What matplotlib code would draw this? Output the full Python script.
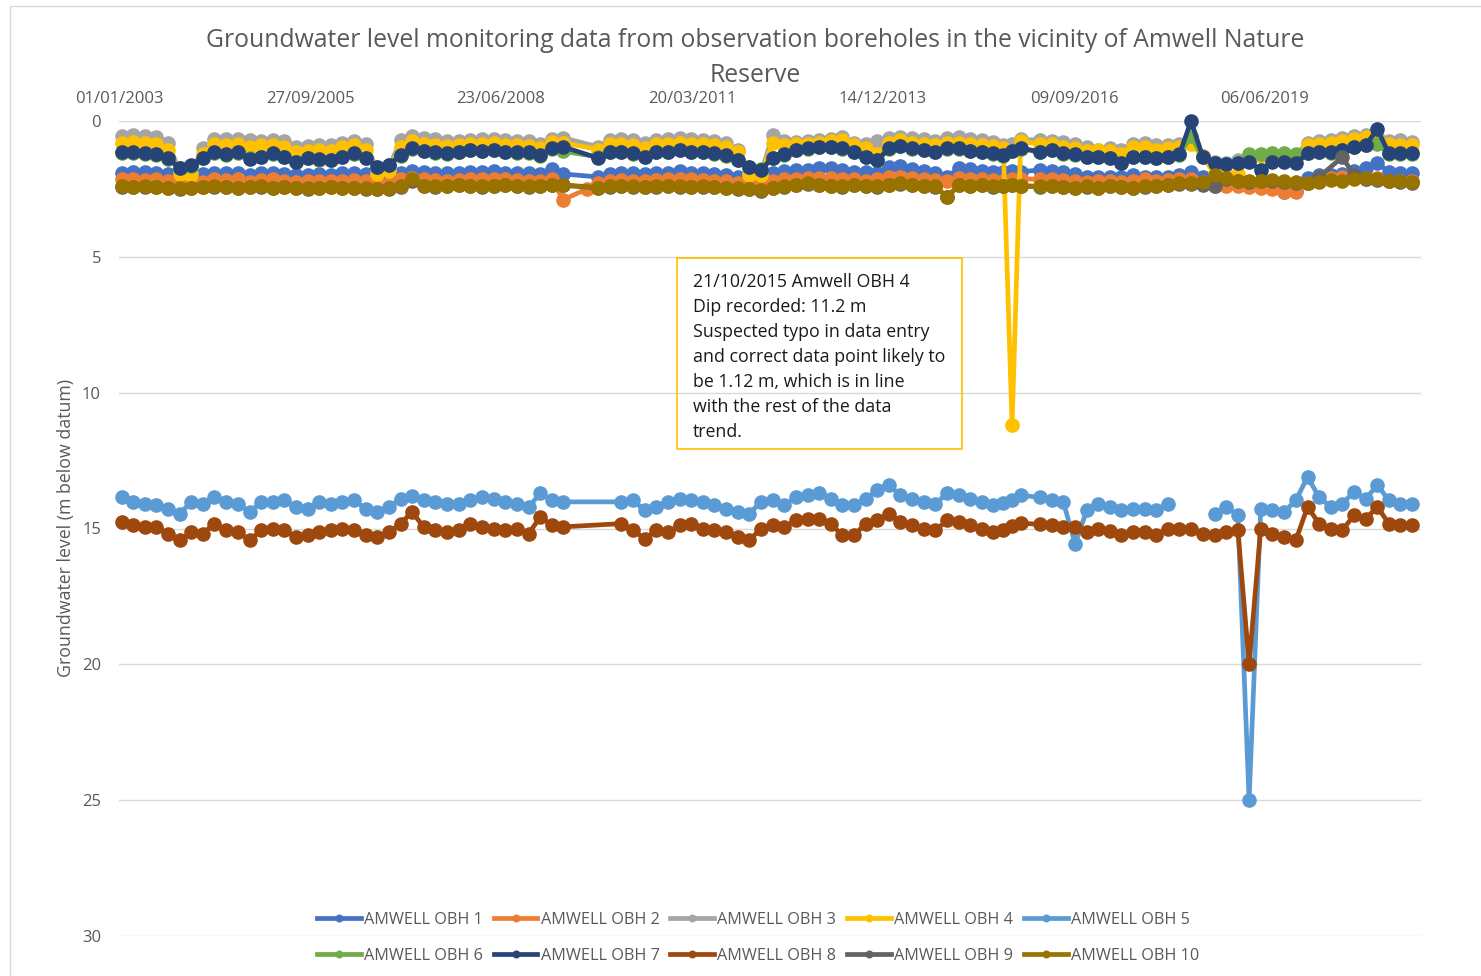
import datetime as dt

import matplotlib
import matplotlib.pyplot as plt
import matplotlib.dates as mdates
import numpy as np
import pandas as pd
from matplotlib.patches import Rectangle

matplotlib.use("Agg")

# === data ===
# survey visits roughly every two months (None = no reading that visit)
survey_dates = list(pd.date_range("2003-01-01", "2021-07-01", freq="2MS") + pd.Timedelta(days=14))
survey_dates[76] = pd.Timestamp("2015-09-05")
survey_dates[77] = pd.Timestamp("2015-10-21")
survey_dates[78] = pd.Timestamp("2015-12-05")

series_names = ["AMWELL OBH 1", "AMWELL OBH 2", "AMWELL OBH 3", "AMWELL OBH 4", "AMWELL OBH 5",
                "AMWELL OBH 6", "AMWELL OBH 7", "AMWELL OBH 8", "AMWELL OBH 9", "AMWELL OBH 10"]
series_colors = ["#4472C4", "#ED7D31", "#A5A5A5", "#FFC000", "#5B9BD5",
                 "#70AD47", "#264478", "#9E480E", "#636363", "#997300"]

obh1 = [1.90, 1.88, 1.88, 1.90, 1.95, 2.05, 2.05, 1.95, 1.90, 1.92,
        1.90, 2.00, 1.92, 1.92, 1.95, 2.00, 1.98, 1.95, 1.98, 1.92,
        1.90, 1.95, 2.05, 2.02, 1.90, 1.85, 1.88, 1.90, 1.92, 1.90,
        1.88, 1.88, 1.85, 1.90, 1.92, 1.92, 1.95, 1.75, 1.95, None,
        None, 2.06, 1.95, 1.92, 1.90, 1.95, 1.90, 1.90, 1.85, 1.90,
        1.92, 1.95, 1.98, 2.05, 2.10, 2.05, 1.93, 1.85, 1.80, 1.80,
        1.72, 1.72, 1.80, 1.87, 1.87, 1.90, 1.68, 1.65, 1.75, 1.85,
        1.90, 2.05, 1.74, 1.78, 1.85, 1.87, 1.87, 1.85, 1.87, 1.80,
        1.85, 1.87, 1.95, 2.05, 2.05, 2.05, 2.05, 2.00, 2.05, 2.05,
        2.05, 2.00, 1.87, 2.05, 2.20, 2.25, 2.30, 2.35, 2.40, 2.40,
        2.60, 2.58, 2.10, 2.00, 2.00, 1.95, 1.85, 1.74, 1.55, 1.87,
        1.90, 1.90]
obh2 = [2.15, 2.15, 2.18, 2.15, 2.20, 2.30, 2.30, 2.25, 2.15, 2.18,
        2.15, 2.25, 2.18, 2.15, 2.20, 2.25, 2.22, 2.20, 2.22, 2.20,
        2.18, 2.22, 2.30, 2.28, 2.15, 2.10, 2.15, 2.18, 2.20, 2.18,
        2.15, 2.15, 2.12, 2.15, 2.18, 2.20, 2.20, 2.15, 2.90, None,
        2.50, 2.28, 2.20, 2.18, 2.20, 2.22, 2.18, 2.15, 2.12, 2.15,
        2.18, 2.20, 2.22, 2.30, 2.35, 2.30, 2.20, 2.15, 2.12, 2.10,
        2.08, 2.10, 2.12, 2.15, 2.20, 2.15, 2.05, 2.05, 2.10, 2.15,
        2.18, 2.20, 2.10, 2.12, 2.15, 2.18, 2.20, 2.15, 2.12, 2.15,
        2.15, 2.18, 2.20, 2.25, 2.20, 2.20, 2.25, 2.20, 2.15, 2.20,
        2.18, 2.15, 2.15, 2.25, 2.38, 2.40, 2.40, 2.42, 2.45, 2.50,
        2.60, 2.62, 2.30, 2.20, 2.10, 2.05, 2.08, 2.15, 2.10, 2.20,
        2.22, 2.22]
obh3 = [0.55, 0.52, 0.55, 0.58, 0.80, 1.85, 1.90, 1.00, 0.68, 0.68,
        0.65, 0.70, 0.72, 0.70, 0.75, 0.95, 0.92, 0.88, 0.90, 0.80,
        0.72, 0.85, 1.80, 1.70, 0.70, 0.55, 0.62, 0.65, 0.75, 0.72,
        0.70, 0.68, 0.65, 0.70, 0.72, 0.75, 0.85, 0.65, 0.62, None,
        None, 0.95, 0.70, 0.68, 0.70, 0.80, 0.70, 0.68, 0.62, 0.68,
        0.70, 0.75, 0.82, 1.05, 1.90, 1.95, 0.52, 0.72, 0.78, 0.75,
        0.70, 0.65, 0.60, 0.80, 0.85, 0.75, 0.62, 0.58, 0.62, 0.68,
        0.72, 0.62, 0.60, 0.65, 0.70, 0.78, 0.90, 0.85, 0.68, 0.70,
        0.75, 0.78, 0.85, 0.95, 1.05, 0.98, 1.05, 0.85, 0.82, 0.90,
        0.88, 0.85, 0.80, 1.30, 1.50, 1.55, 1.45, 1.30, 1.25, 1.28,
        1.30, 1.25, 0.80, 0.72, 0.70, 0.62, 0.55, 0.52, 0.55, 0.72,
        0.70, 0.78]
obh4 = [0.80, 0.78, 0.82, 0.85, 1.05, 1.95, 2.00, 1.20, 0.85, 0.88,
        0.85, 0.95, 0.90, 0.88, 0.95, 1.15, 1.10, 1.05, 1.10, 0.95,
        0.90, 1.05, 1.95, 1.85, 0.95, 0.75, 0.85, 0.88, 0.92, 0.88,
        0.85, 0.85, 0.82, 0.88, 0.90, 0.92, 1.00, 0.78, 0.80, None,
        None, 1.05, 0.85, 0.85, 0.88, 1.00, 0.85, 0.85, 0.80, 0.85,
        0.85, 0.90, 0.95, 1.15, 2.00, 2.00, 0.80, 0.90, 0.85, 0.85,
        0.80, 0.75, 0.70, 0.90, 1.00, 1.20, 0.80, 0.70, 0.80, 0.85,
        0.90, 0.80, 0.80, 0.85, 0.88, 0.92, 1.00, 11.20, 0.75, 0.85,
        0.85, 0.95, 1.00, 1.10, 1.05, 1.10, 1.20, 0.95, 0.95, 1.05,
        1.00, 0.95, 0.85, 1.30, 1.95, 2.00, 1.95, 1.35, 1.30, 1.32,
        1.30, 1.35, 0.90, 0.85, 0.80, 0.75, 0.65, 0.60, 0.65, 0.85,
        0.90, 0.90]
obh5 = [13.84, 14.02, 14.08, 14.14, 14.27, 14.45, 14.02, 14.08, 13.84, 14.02,
        14.08, 14.40, 14.02, 14.02, 13.96, 14.20, 14.27, 14.02, 14.08, 14.02,
        13.96, 14.27, 14.39, 14.20, 13.90, 13.80, 13.96, 14.02, 14.08, 14.08,
        13.96, 13.84, 13.90, 14.02, 14.08, 14.20, 13.71, 13.96, 14.02, None,
        None, None, None, 14.02, 13.96, 14.33, 14.20, 14.02, 13.90, 13.96,
        14.02, 14.14, 14.27, 14.39, 14.45, 14.02, 13.96, 14.14, 13.84, 13.78,
        13.71, 13.90, 14.14, 14.14, 13.90, 13.59, 13.40, 13.78, 13.90, 14.02,
        14.08, 13.71, 13.78, 13.90, 14.02, 14.14, 14.05, 13.95, 13.78, 13.85,
        13.96, 14.02, 15.56, 14.33, 14.08, 14.20, 14.33, 14.27, 14.27, 14.33,
        14.08, np.nan, np.nan, np.nan, 14.45, 14.20, 14.50, 25.00, 14.27, 14.33,
        14.39, 13.96, 13.10, 13.84, 14.20, 14.08, 13.65, 13.90, 13.40, 13.96,
        14.08, 14.08]
obh6 = [1.18, 1.17, 1.20, 1.25, 1.40, 1.72, 1.65, 1.38, 1.17, 1.25,
        1.17, 1.38, 1.33, 1.20, 1.33, 1.52, 1.38, 1.42, 1.45, 1.33,
        1.20, 1.38, 1.70, 1.63, 1.27, 1.02, 1.12, 1.17, 1.20, 1.15,
        1.08, 1.12, 1.08, 1.15, 1.17, 1.17, 1.27, 1.02, 1.12, None,
        None, 1.32, 1.15, 1.15, 1.20, 1.33, 1.15, 1.15, 1.08, 1.15,
        1.15, 1.20, 1.27, 1.45, 1.70, 1.78, 1.37, 1.25, 1.08, 1.02,
        0.97, 0.97, 1.02, 1.15, 1.33, 1.45, 1.02, 0.93, 1.02, 1.08,
        1.15, 1.02, 1.02, 1.12, 1.15, 1.20, 1.27, 1.12, 1.02, 1.15,
        1.08, 1.20, 1.25, 1.33, 1.33, 1.38, 1.55, 1.33, 1.33, 1.38,
        1.33, 1.25, 0.55, 1.33, 1.55, 1.58, 1.55, 1.20, 1.22, 1.18,
        1.18, 1.20, 1.17, 1.15, 1.17, 1.08, 0.97, 0.90, 0.85, 1.20,
        1.20, 1.20]
obh7 = [1.15, 1.15, 1.19, 1.23, 1.37, 1.74, 1.62, 1.37, 1.15, 1.23,
        1.15, 1.40, 1.31, 1.19, 1.31, 1.50, 1.37, 1.40, 1.44, 1.31,
        1.19, 1.37, 1.68, 1.62, 1.25, 1.00, 1.10, 1.15, 1.19, 1.13,
        1.07, 1.10, 1.07, 1.13, 1.15, 1.15, 1.25, 1.00, 0.95, None,
        None, 1.37, 1.13, 1.13, 1.19, 1.31, 1.13, 1.13, 1.07, 1.13,
        1.13, 1.19, 1.25, 1.44, 1.68, 1.80, 1.35, 1.23, 1.07, 1.00,
        0.95, 0.95, 1.00, 1.13, 1.31, 1.44, 1.00, 0.91, 1.00, 1.07,
        1.13, 1.00, 1.00, 1.10, 1.13, 1.19, 1.25, 1.10, 1.00, 1.13,
        1.07, 1.19, 1.23, 1.31, 1.31, 1.37, 1.56, 1.31, 1.31, 1.37,
        1.31, 1.23, 0.00, 1.31, 1.56, 1.60, 1.56, 1.50, 1.80, 1.50,
        1.50, 1.56, 1.19, 1.13, 1.15, 1.07, 0.95, 0.88, 0.30, 1.19,
        1.19, 1.19]
obh8 = [14.76, 14.88, 14.94, 14.94, 15.19, 15.43, 15.13, 15.19, 14.82, 15.07,
        15.13, 15.43, 15.07, 15.00, 15.07, 15.31, 15.25, 15.13, 15.07, 15.00,
        15.07, 15.25, 15.31, 15.13, 14.82, 14.39, 14.94, 15.07, 15.13, 15.07,
        14.82, 14.94, 15.00, 15.07, 15.00, 15.19, 14.57, 14.88, 14.94, None,
        None, None, None, 14.82, 15.07, 15.37, 15.07, 15.13, 14.88, 14.82,
        15.00, 15.07, 15.13, 15.31, 15.43, 15.00, 14.88, 14.94, 14.70, 14.64,
        14.64, 14.82, 15.25, 15.25, 14.82, 14.70, 14.45, 14.76, 14.88, 15.00,
        15.07, 14.70, 14.76, 14.88, 15.00, 15.13, 15.06, 14.90, 14.80, 14.85,
        14.88, 14.94, 14.94, 15.13, 15.00, 15.10, 15.25, 15.13, 15.13, 15.25,
        15.00, 15.00, 15.00, 15.20, 15.25, 15.13, 15.06, 20.00, 15.00, 15.19,
        15.30, 15.43, 14.20, 14.82, 15.00, 15.06, 14.51, 14.64, 14.20, 14.82,
        14.88, 14.88]
obh9 = [2.42, 2.44, 2.42, 2.44, 2.47, 2.50, 2.47, 2.44, 2.42, 2.44,
        2.47, 2.44, 2.42, 2.47, 2.44, 2.47, 2.50, 2.47, 2.44, 2.47,
        2.47, 2.50, 2.52, 2.50, 2.42, 2.20, 2.40, 2.42, 2.40, 2.37,
        2.40, 2.42, 2.40, 2.37, 2.40, 2.42, 2.40, 2.37, 2.37, None,
        None, 2.47, 2.42, 2.40, 2.42, 2.44, 2.42, 2.40, 2.42, 2.44,
        2.42, 2.44, 2.47, 2.50, 2.52, 2.57, 2.47, 2.42, 2.37, 2.32,
        2.37, 2.40, 2.42, 2.37, 2.40, 2.42, 2.37, 2.32, 2.37, 2.40,
        2.42, 2.80, 2.37, 2.40, 2.37, 2.42, 2.40, 2.37, 2.40, 2.42,
        2.40, 2.44, 2.47, 2.42, 2.47, 2.40, 2.44, 2.47, 2.42, 2.40,
        2.37, 2.32, 2.32, 2.35, 2.40, 2.15, 2.22, 2.24, 2.22, 2.20,
        2.24, 2.27, 2.30, 2.06, None, 1.33, 2.00, 2.12, 2.17, 2.22,
        2.24, 2.27]
obh10 = [2.40, 2.42, 2.40, 2.42, 2.45, 2.48, 2.45, 2.42, 2.40, 2.42,
         2.45, 2.42, 2.40, 2.45, 2.42, 2.45, 2.48, 2.45, 2.42, 2.45,
         2.45, 2.48, 2.50, 2.48, 2.40, 2.15, 2.38, 2.40, 2.38, 2.35,
         2.38, 2.40, 2.38, 2.35, 2.38, 2.40, 2.38, 2.35, 2.35, None,
         None, 2.45, 2.40, 2.38, 2.40, 2.42, 2.40, 2.38, 2.40, 2.42,
         2.40, 2.42, 2.45, 2.48, 2.50, 2.55, 2.45, 2.40, 2.35, 2.30,
         2.35, 2.38, 2.40, 2.35, 2.38, 2.40, 2.35, 2.30, 2.35, 2.38,
         2.40, 2.80, 2.35, 2.38, 2.35, 2.40, 2.38, 2.35, 2.38, 2.40,
         2.38, 2.42, 2.45, 2.40, 2.45, 2.38, 2.42, 2.45, 2.40, 2.38,
         2.35, 2.30, 2.30, 2.25, 2.00, 2.10, 2.20, 2.22, 2.20, 2.18,
         2.22, 2.25, 2.28, 2.25, 2.18, 2.20, 2.15, 2.10, 2.15, 2.20,
         2.22, 2.25]

all_series = [obh1, obh2, obh3, obh4, obh5, obh6, obh7, obh8, obh9, obh10]

axis_start = dt.date(2003, 1, 1)
axis_end = dt.date(2021, 8, 31)
tick_step_days = 1000

note_text = ("21/10/2015 Amwell OBH 4\n"
             "Dip recorded: 11.2 m\n"
             "Suspected typo in data entry\n"
             "and correct data point likely to\n"
             "be 1.12 m, which is in line\n"
             "with the rest of the data\n"
             "trend.")

# === figure ===
W, H = 1481, 976
plt.rcParams["font.family"] = ["Open Sans", "DejaVu Sans"]
fig = plt.figure(figsize=(W / 100, H / 100), dpi=100)
ax = fig.add_axes([119 / W, 1 - 936 / H, (1421 - 119) / W, (936 - 121) / H])

handles = []
for name, color, vals in zip(series_names, series_colors, all_series):
    xs = [d for d, v in zip(survey_dates, vals) if v is not None]
    ys = np.array([v for v in vals if v is not None], dtype=float)
    (h,) = ax.plot(xs, ys, color=color, lw=3.4, marker="o", ms=9.5,
                   label=name, clip_on=False, solid_joinstyle="round")
    handles.append(h)

ax.set_ylim(30, 0)
ax.set_yticks(range(0, 31, 5))
ax.set_xlim(axis_start, axis_end)
ticks = []
d = axis_start
while d <= axis_end:
    ticks.append(d)
    d = d + dt.timedelta(days=tick_step_days)
ax.set_xticks(ticks)
ax.xaxis.set_major_formatter(mdates.DateFormatter("%d/%m/%Y"))
ax.xaxis.tick_top()
ax.tick_params(axis="x", length=0, pad=10, labelsize=12, labelcolor="#595959")
ax.tick_params(axis="y", length=0, pad=13, labelsize=12, labelcolor="#595959")
ax.grid(axis="y", color="#D9D9D9", lw=1)
ax.set_axisbelow(True)
for s in ax.spines.values():
    s.set_visible(False)

fig.text(66 / W, 1 - 528 / H, "Groundwater level (m below datum)", rotation=90,
         ha="center", va="center", fontsize=12.8, color="#595959")

fig.text(755 / W, 1 - 58 / H,
         "Groundwater level monitoring data from observation boreholes in the vicinity of Amwell Nature\nReserve",
         ha="center", va="center", fontsize=17.8, color="#595959", linespacing=1.55)

# annotation box
fig.add_artist(Rectangle((677 / W, 1 - 449 / H), (962 - 677) / W, (449 - 258) / H,
                         transform=fig.transFigure, fill=False, ec="#FFC000", lw=1.2))
fig.text(693 / W, 1 - 273 / H, note_text, ha="left", va="top", fontsize=12.8,
         color="#1a1a1a", linespacing=1.5)

# chart border
fig.add_artist(Rectangle((10 / W, -0.01), 1.0, 1 - 6 / H + 0.01, transform=fig.transFigure,
                         fill=False, ec="#D9D9D9", lw=1))

order = [0, 5, 1, 6, 2, 7, 3, 8, 4, 9]
leg = fig.legend([handles[i] for i in order], [series_names[i] for i in order],
                 loc="center", bbox_to_anchor=(758 / W, 1 - 938 / H), ncol=5,
                 frameon=False, fontsize=11.7, handlelength=2.7, handletextpad=0.2,
                 columnspacing=0.65, labelspacing=1.25, markerscale=0.5)
for t in leg.get_texts():
    t.set_color("#595959")

fig.savefig("out.png", dpi=100)
plt.close(fig)
